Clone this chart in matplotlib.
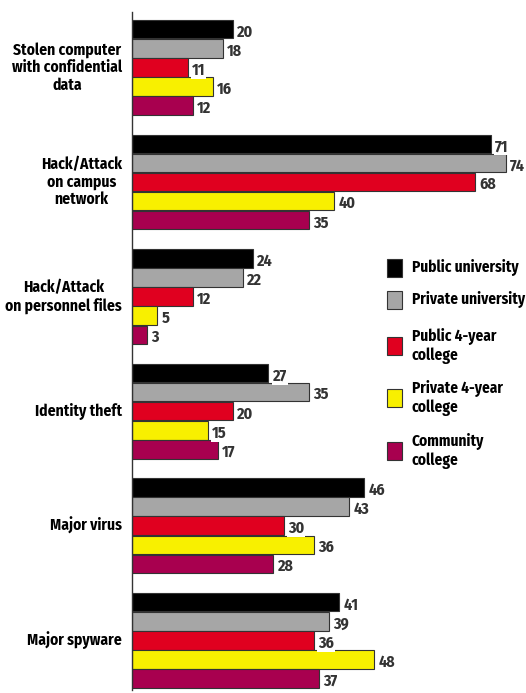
import matplotlib.pyplot as plt
from matplotlib.patches import Rectangle

categories = [
    "Stolen computer\nwith confidential\ndata",
    "Hack/Attack\non campus\nnetwork",
    "Hack/Attack\non personnel files",
    "Identity theft",
    "Major virus",
    "Major spyware",
]
series_names = [
    "Public university",
    "Private university",
    "Public 4-year\ncollege",
    "Private 4-year\ncollege",
    "Community\ncollege",
]
public_univ = [20, 71, 24, 27, 46, 41]
private_univ = [18, 74, 22, 35, 43, 39]
public_4yr = [11, 68, 12, 20, 30, 36]
private_4yr = [16, 40, 5, 15, 36, 48]
community = [12, 35, 3, 17, 28, 37]
series = [public_univ, private_univ, public_4yr, private_4yr, community]
colors = ["#000000", "#a6a6a6", "#e0001f", "#f8f000", "#a8004f"]

W, H = 526, 693
font = ["Fira Sans Condensed", "DejaVu Sans"]
px_per_unit = 5.05

fig = plt.figure(figsize=(W / 100, H / 100), dpi=100)
ax = fig.add_axes([132 / W, 3 / H, 1 - 132 / W, 678 / H])

stride = 6
bar_h = 0.97
for j, (vals, col) in enumerate(zip(series, colors)):
    ys = [i * stride + j for i in range(len(categories))]
    ax.barh(ys, vals, height=bar_h, color=col, edgecolor="#333333",
            linewidth=0.8, zorder=2)
    for y, v in zip(ys, vals):
        ax.annotate(str(v), (v, y), xytext=(3, -2), textcoords="offset points",
                    ha="left", va="center", fontsize=11.5, fontweight="bold",
                    family=font, color="#333333", zorder=4,
                    bbox=dict(boxstyle="square,pad=0.05", fc="white", ec="none"))

for i, cat in enumerate(categories):
    ax.text(-10 / px_per_unit, i * stride + 2, cat, ha="right", va="center",
            multialignment="center", fontsize=11.2, fontweight="bold",
            family=font, color="black", linespacing=1.15)

ax.set_xlim(0, (W - 132) / px_per_unit)
ax.set_ylim(5 * stride + 4 + 0.6, -0.9)
for s in ["top", "right", "bottom"]:
    ax.spines[s].set_visible(False)
ax.spines["left"].set_linewidth(1.0)
ax.spines["left"].set_color("#333333")
ax.set_xticks([])
ax.set_yticks([])
ax.patch.set_visible(False)

# legend, drawn by hand in pixel positions
leg_y = [268, 300, 346, 398, 451]
for name, col, yc in zip(series_names, colors, leg_y):
    fig.add_artist(Rectangle((387 / W, (H - yc - 9) / H), 15 / W, 18 / H,
                             transform=fig.transFigure, facecolor=col,
                             edgecolor="#333333", linewidth=0.8))
    fig.text(412 / W, (H - yc) / H, name, ha="left", va="center",
             fontsize=11, fontweight="bold", family=font, color="black",
             linespacing=1.15)

fig.savefig("out.png", dpi=100)
